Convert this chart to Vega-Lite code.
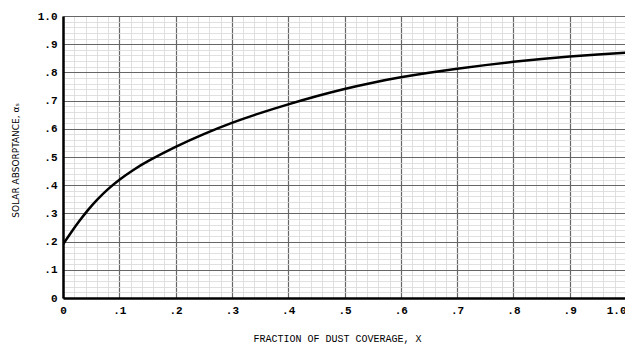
{
  "$schema": "https://vega.github.io/schema/vega-lite/v6.json",
  "autosize": "none",
  "width": 563,
  "height": 282,
  "padding": {"left": 63, "top": 16, "right": 0, "bottom": 49},
  "background": "white",
  "config": {"view": {"stroke": null}},
  "data": {"values": [
    {"x": 0.0, "a": 0.19},
    {"x": 0.015, "a": 0.235},
    {"x": 0.03, "a": 0.276},
    {"x": 0.045, "a": 0.314},
    {"x": 0.06, "a": 0.348},
    {"x": 0.08, "a": 0.387},
    {"x": 0.1, "a": 0.42},
    {"x": 0.125, "a": 0.455},
    {"x": 0.15, "a": 0.485},
    {"x": 0.2, "a": 0.537},
    {"x": 0.25, "a": 0.582},
    {"x": 0.3, "a": 0.622},
    {"x": 0.35, "a": 0.656},
    {"x": 0.4, "a": 0.687},
    {"x": 0.45, "a": 0.716},
    {"x": 0.5, "a": 0.742},
    {"x": 0.55, "a": 0.764},
    {"x": 0.6, "a": 0.783},
    {"x": 0.65, "a": 0.799},
    {"x": 0.7, "a": 0.813},
    {"x": 0.75, "a": 0.826},
    {"x": 0.8, "a": 0.838},
    {"x": 0.85, "a": 0.848},
    {"x": 0.9, "a": 0.857},
    {"x": 0.95, "a": 0.864},
    {"x": 1.0, "a": 0.87}
  ]},
  "mark": {"type": "line", "color": "black", "strokeWidth": 2.5, "interpolate": "basis", "clip": true},
  "encoding": {
    "x": {
      "field": "x", "type": "quantitative",
      "scale": {"domain": [0, 1], "nice": false},
      "axis": {
        "values": [0,0.02,0.04,0.06,0.08,0.1,0.12,0.14,0.16,0.18,0.2,0.22,0.24,0.26,0.28,0.3,0.32,0.34,0.36,0.38,0.4,0.42,0.44,0.46,0.48,0.5,0.52,0.54,0.56,0.58,0.6,0.62,0.64,0.66,0.68,0.7,0.72,0.74,0.76,0.78,0.8,0.82,0.84,0.86,0.88,0.9,0.92,0.94,0.96,0.98,1],
        "labelExpr": "abs(datum.value*10-round(datum.value*10))>0.001 ? '' : datum.value==0 ? '0' : datum.value==1 ? '1.0' : '.' + round(datum.value*10)",
        "labelAlign": {"condition": {"test": "datum.value==1", "value": "right"}, "value": "center"},
        "grid": true,
        "gridColor": {"condition": [
          {"test": "abs(datum.value*10-round(datum.value*10))<0.001", "value": "#666666"},
          {"test": "abs(datum.value*20-round(datum.value*20))<0.001", "value": "#a8a8a8"}
        ], "value": "#d8d8d8"},
        "gridWidth": {"condition": {"test": "abs(datum.value*10-round(datum.value*10))<0.001", "value": 1.2}, "value": 0.8},
        "ticks": false,
        "domainColor": "black", "domainWidth": 2.5,
        "labelFont": "Liberation Mono", "labelFontSize": 11, "labelFontWeight": "bold", "labelColor": "black",
        "labelPadding": 6, "labelFlush": false, "labelOverlap": false,
        "title": "FRACTION OF DUST COVERAGE, X",
        "titleFont": "Liberation Mono", "titleFontSize": 10, "titleFontWeight": "normal", "titleColor": "black",
        "titleX": 274, "titleY": 40, "titleBaseline": "middle", "titleAnchor": null
      }
    },
    "y": {
      "field": "a", "type": "quantitative",
      "scale": {"domain": [0, 1], "nice": false},
      "axis": {
        "values": [0,0.02,0.04,0.06,0.08,0.1,0.12,0.14,0.16,0.18,0.2,0.22,0.24,0.26,0.28,0.3,0.32,0.34,0.36,0.38,0.4,0.42,0.44,0.46,0.48,0.5,0.52,0.54,0.56,0.58,0.6,0.62,0.64,0.66,0.68,0.7,0.72,0.74,0.76,0.78,0.8,0.82,0.84,0.86,0.88,0.9,0.92,0.94,0.96,0.98,1],
        "labelExpr": "abs(datum.value*10-round(datum.value*10))>0.001 ? '' : datum.value==0 ? '0' : datum.value==1 ? '1.0' : '.' + round(datum.value*10)",
        "grid": true,
        "gridColor": {"condition": [
          {"test": "abs(datum.value*10-round(datum.value*10))<0.001", "value": "#666666"},
          {"test": "abs(datum.value*20-round(datum.value*20))<0.001", "value": "#a8a8a8"}
        ], "value": "#d8d8d8"},
        "gridWidth": {"condition": {"test": "abs(datum.value*10-round(datum.value*10))<0.001", "value": 1.2}, "value": 0.8},
        "ticks": false,
        "domainColor": "black", "domainWidth": 2.5,
        "labelFont": "Liberation Mono", "labelFontSize": 11, "labelFontWeight": "bold", "labelColor": "black",
        "labelPadding": 6, "labelFlush": false, "labelOverlap": false,
        "title": "SOLAR ABSORPTANCE, αₛ",
        "titleFont": "DejaVu Sans", "titleFontSize": 9, "titleFontWeight": "normal", "titleColor": "black",
        "titleAngle": -90, "titleX": -48, "titleY": 144, "titleAlign": "center", "titleBaseline": "middle", "titleAnchor": null
      }
    }
  }
}
